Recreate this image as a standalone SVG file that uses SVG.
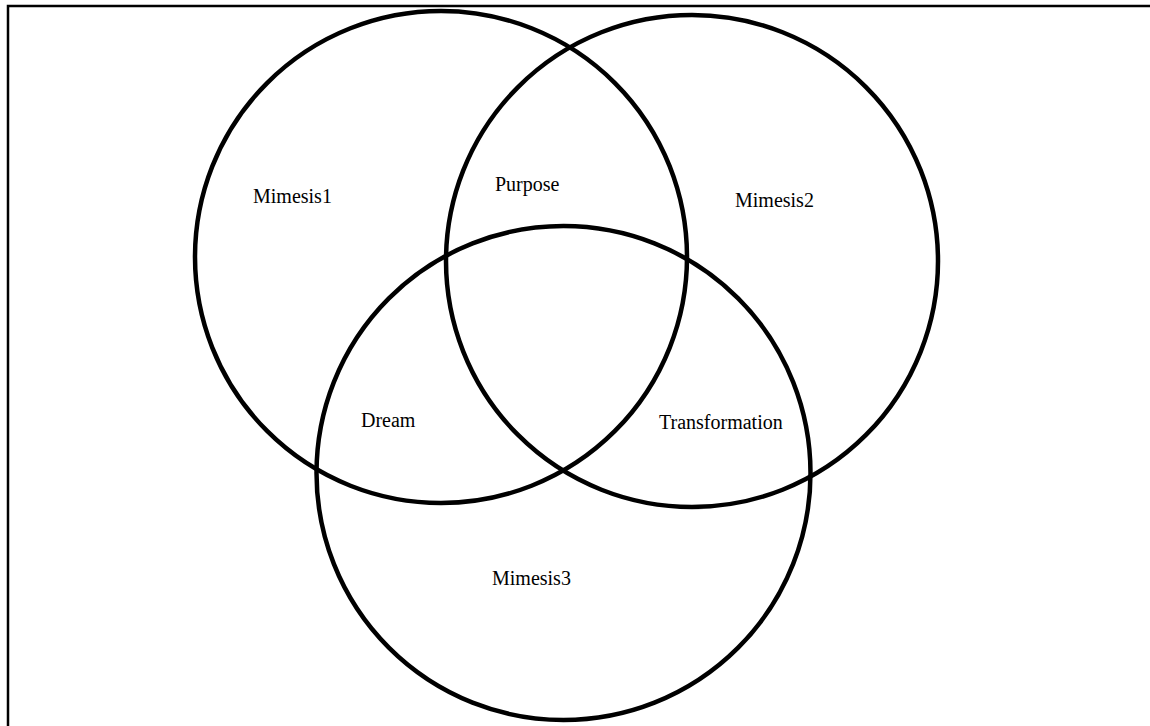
<svg xmlns="http://www.w3.org/2000/svg" width="1150" height="726" viewBox="0 0 1150 726">
<style>
.c{fill:none;stroke:#000;stroke-width:4.5}
.t{font-family:"Liberation Serif","Times New Roman",serif;font-size:20px;fill:#000}
.b{stroke:#000;stroke-width:2.5;fill:none}
</style>
<rect x="0" y="0" width="1150" height="726" fill="#fff"/>
<path class="b" d="M8 726 V6 H1150"/>
<g id="connectors"/>
<g id="mimesis1"><circle class="c" cx="441" cy="257" r="246"/><text class="t" x="253" y="203">Mimesis1</text></g>
<g id="mimesis2"><circle class="c" cx="692" cy="261" r="246"/><text class="t" x="735" y="207">Mimesis2</text></g>
<g id="mimesis3"><circle class="c" cx="563.5" cy="473" r="247"/><text class="t" x="492" y="585">Mimesis3</text></g>
<g id="purpose"><text class="t" x="495" y="191">Purpose</text></g>
<g id="dream"><text class="t" x="361" y="427">Dream</text></g>
<g id="transformation"><text class="t" x="659" y="429">Transformation</text></g>
</svg>
